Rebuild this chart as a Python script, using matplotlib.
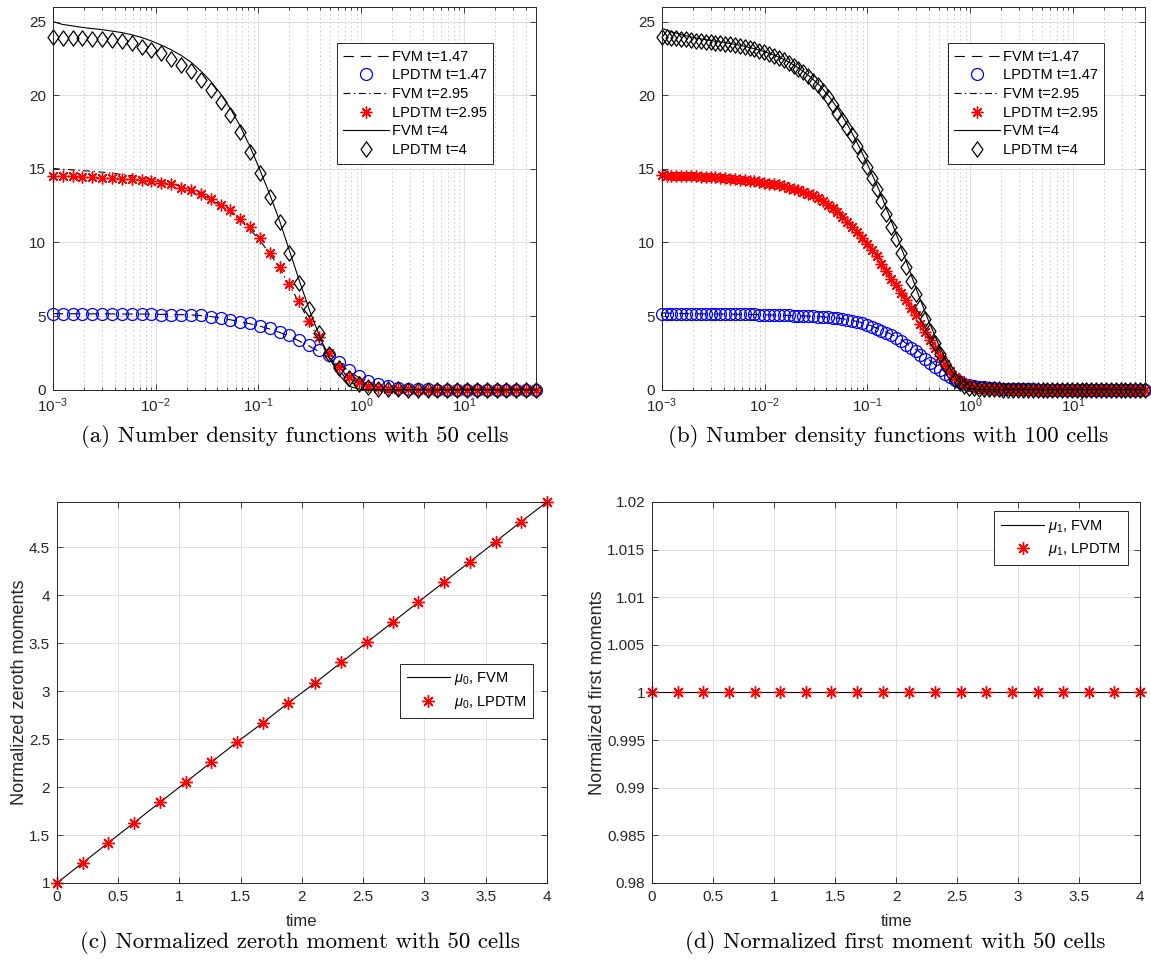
import matplotlib
matplotlib.use('Agg')
import matplotlib.pyplot as plt
from matplotlib.path import Path
from matplotlib.ticker import LogLocator, FormatStrFormatter, MultipleLocator, NullFormatter

plt.rcParams['font.family'] = ['Liberation Sans', 'DejaVu Sans']
plt.rcParams['mathtext.fontset'] = 'custom'
plt.rcParams['mathtext.rm'] = 'Liberation Sans'
plt.rcParams['mathtext.it'] = 'Liberation Sans:italic'
plt.rcParams['mathtext.bf'] = 'Liberation Sans:bold'
plt.rcParams['axes.unicode_minus'] = False
plt.rcParams['lines.scale_dashes'] = False

# ---------------- data: 50 cells (panel a) ----------------
x50 = [0.001, 0.00125, 0.00156, 0.00194, 0.00242, 0.00302, 0.00376, 0.00469, 0.00585, 0.0073,
       0.0091, 0.01135, 0.0142, 0.0177, 0.022, 0.0275, 0.0343, 0.0428, 0.0533, 0.0665,
       0.0829, 0.103, 0.129, 0.161, 0.2, 0.25, 0.312, 0.389, 0.485, 0.604,
       0.754, 0.94, 1.17, 1.46, 1.82, 2.28, 2.84, 3.54, 4.41, 5.5,
       6.87, 8.56, 10.7, 13.3, 16.6, 20.7, 25.8, 32.2, 40.2, 50.0]

a_fvm_147 = [5.16, 5.16, 5.16, 5.15, 5.15, 5.15, 5.15, 5.14, 5.14, 5.14,
             5.13, 5.12, 5.11, 5.10, 5.08, 5.04, 4.97, 4.87, 4.75, 4.62,
             4.48, 4.32, 4.12, 3.89, 3.63, 3.31, 2.96, 2.59, 2.20, 1.76,
             1.28, 0.84, 0.52, 0.30, 0.16, 0.08, 0.04, 0.02, 0.01, 0.0,
             0.0, 0.0, 0.0, 0.0, 0.0, 0.0, 0.0, 0.0, 0.0, 0.0]
a_lp_147 = [5.12, 5.12, 5.12, 5.12, 5.12, 5.12, 5.12, 5.11, 5.11, 5.11,
            5.11, 5.10, 5.10, 5.09, 5.08, 5.05, 4.97, 4.86, 4.74, 4.62,
            4.50, 4.36, 4.16, 3.94, 3.70, 3.38, 3.04, 2.69, 2.33, 1.88,
            1.36, 0.90, 0.60, 0.38, 0.22, 0.12, 0.07, 0.04, 0.02, 0.01,
            0.0, 0.0, 0.0, 0.0, 0.0, 0.0, 0.0, 0.0, 0.0, 0.0]
a_fvm_295 = [15.02, 14.97, 14.93, 14.88, 14.83, 14.77, 14.70, 14.62, 14.53, 14.43,
             14.31, 14.17, 14.00, 13.80, 13.56, 13.28, 12.94, 12.52, 12.05, 11.50,
             10.88, 10.15, 9.25, 8.25, 7.10, 5.90, 4.60, 3.40, 2.25, 1.30,
             0.60, 0.20, 0.05, 0.0, 0.0, 0.0, 0.0, 0.0, 0.0, 0.0,
             0.0, 0.0, 0.0, 0.0, 0.0, 0.0, 0.0, 0.0, 0.0, 0.0]
a_lp_295 = [14.51, 14.51, 14.51, 14.46, 14.42, 14.39, 14.35, 14.33, 14.28, 14.24,
            14.17, 14.06, 13.94, 13.71, 13.56, 13.30, 12.97, 12.56, 12.20, 11.61,
            11.03, 10.28, 9.31, 8.35, 7.18, 6.04, 4.68, 3.60, 2.47, 1.56,
            0.88, 0.50, 0.28, 0.14, 0.07, 0.03, 0.02, 0.01, 0.0, 0.0,
            0.0, 0.0, 0.0, 0.0, 0.0, 0.0, 0.0, 0.0, 0.0, 0.0]
a_fvm_4 = [25.00, 24.80, 24.70, 24.60, 24.52, 24.45, 24.35, 24.25, 24.10, 23.92,
           23.68, 23.40, 23.08, 22.70, 22.25, 21.65, 20.95, 20.10, 19.10, 17.90,
           16.50, 14.95, 13.25, 11.45, 9.45, 7.40, 5.45, 3.70, 2.20, 1.05,
           0.25, 0.05, 0.0, 0.0, 0.0, 0.0, 0.0, 0.0, 0.0, 0.0,
           0.0, 0.0, 0.0, 0.0, 0.0, 0.0, 0.0, 0.0, 0.0, 0.0]
a_lp_4 = [23.92, 23.90, 23.90, 23.88, 23.83, 23.79, 23.72, 23.65, 23.51, 23.28,
          23.06, 22.83, 22.43, 22.05, 21.64, 21.03, 20.35, 19.56, 18.65, 17.52,
          16.16, 14.69, 13.10, 11.36, 9.26, 7.22, 5.50, 3.83, 2.40, 1.50,
          0.82, 0.38, 0.17, 0.08, 0.04, 0.02, 0.01, 0.01, 0.0, 0.0,
          0.0, 0.0, 0.0, 0.0, 0.0, 0.0, 0.0, 0.0, 0.0, 0.0]

# ---------------- data: 100 cells (panel b) ----------------
x100 = [0.001, 0.001116, 0.001244, 0.001388, 0.001549, 0.001727, 0.001927, 0.002149, 0.002397, 0.002674,
        0.002983, 0.003327, 0.003712, 0.004141, 0.004619, 0.005152, 0.005748, 0.006411, 0.007152, 0.007978,
        0.008899, 0.009926, 0.01107, 0.01235, 0.01378, 0.01537, 0.01715, 0.01913, 0.02133, 0.0238,
        0.02655, 0.02961, 0.03303, 0.03685, 0.0411, 0.04585, 0.05115, 0.05705, 0.06365, 0.071,
        0.0792, 0.08834, 0.09852, 0.1099, 0.1226, 0.1368, 0.1526, 0.1702, 0.1898, 0.2118,
        0.2362, 0.2635, 0.2939, 0.3279, 0.3657, 0.408, 0.455, 0.5076, 0.5662, 0.6316,
        0.7046, 0.786, 0.8767, 0.9779, 1.091, 1.217, 1.357, 1.514, 1.689, 1.884,
        2.102, 2.344, 2.615, 2.917, 3.254, 3.63, 4.05, 4.517, 5.039, 5.621,
        6.27, 6.995, 7.802, 8.704, 9.707, 10.83, 12.08, 13.48, 15.03, 16.77,
        18.71, 20.86, 23.27, 25.96, 28.96, 32.3, 36.04, 40.19, 44.84, 50.0]

b_lp_147 = [5.17, 5.17, 5.17, 5.16, 5.16, 5.16, 5.16, 5.15, 5.15, 5.15,
            5.14, 5.14, 5.14, 5.13, 5.13, 5.13, 5.12, 5.12, 5.11, 5.11,
            5.10, 5.09, 5.08, 5.07, 5.06, 5.05, 5.04, 5.03, 5.02, 5.01,
            4.99, 4.98, 4.96, 4.94, 4.92, 4.89, 4.85, 4.80, 4.75, 4.70,
            4.61, 4.52, 4.41, 4.29, 4.14, 3.99, 3.85, 3.69, 3.52, 3.29,
            3.05, 2.85, 2.63, 2.35, 2.09, 1.81, 1.54, 1.31, 1.08, 0.87,
            0.67, 0.55, 0.42, 0.34, 0.26, 0.21, 0.16, 0.12, 0.10, 0.08,
            0.06, 0.05, 0.04, 0.03, 0.03, 0.02, 0.02, 0.01, 0.01, 0.01,
            0.01, 0.01, 0.01, 0.01, 0.01, 0.0, 0.0, 0.0, 0.0, 0.0,
            0.0, 0.0, 0.0, 0.0, 0.0, 0.0, 0.0, 0.0, 0.0, 0.0]
b_lp_295 = [14.55, 14.54, 14.53, 14.52, 14.51, 14.50, 14.49, 14.48, 14.47, 14.45,
            14.43, 14.41, 14.39, 14.36, 14.33, 14.30, 14.27, 14.24, 14.20, 14.16,
            14.11, 14.06, 14.00, 13.94, 13.87, 13.80, 13.72, 13.63, 13.54, 13.44,
            13.32, 13.19, 13.00, 12.79, 12.56, 12.31, 12.04, 11.75, 11.41, 11.07,
            10.68, 10.30, 9.92, 9.51, 9.05, 8.56, 8.04, 7.54, 7.08, 6.59,
            6.10, 5.57, 5.04, 4.47, 3.93, 3.37, 2.83, 2.28, 1.74, 1.30,
            0.87, 0.65, 0.43, 0.31, 0.18, 0.13, 0.08, 0.06, 0.04, 0.03,
            0.02, 0.02, 0.01, 0.01, 0.01, 0.01, 0.01, 0.01, 0.01, 0.0,
            0.0, 0.0, 0.0, 0.0, 0.0, 0.0, 0.0, 0.0, 0.0, 0.0,
            0.0, 0.0, 0.0, 0.0, 0.0, 0.0, 0.0, 0.0, 0.0, 0.0]
b_lp_4 = [23.97, 23.93, 23.89, 23.86, 23.82, 23.78, 23.74, 23.71, 23.67, 23.63,
          23.60, 23.57, 23.54, 23.50, 23.45, 23.40, 23.35, 23.29, 23.21, 23.12,
          23.03, 22.94, 22.82, 22.69, 22.55, 22.39, 22.20, 22.00, 21.79, 21.55,
          21.27, 20.98, 20.67, 20.30, 19.85, 19.35, 18.80, 18.28, 17.80, 17.28,
          16.57, 15.87, 15.15, 14.40, 13.62, 12.80, 11.92, 11.05, 10.20, 9.27,
          8.32, 7.38, 6.48, 5.62, 4.81, 3.98, 3.18, 2.44, 1.73, 1.19,
          0.69, 0.45, 0.22, 0.14, 0.09, 0.06, 0.04, 0.03, 0.02, 0.02,
          0.01, 0.01, 0.01, 0.01, 0.01, 0.01, 0.0, 0.0, 0.0, 0.0,
          0.0, 0.0, 0.0, 0.0, 0.0, 0.0, 0.0, 0.0, 0.0, 0.0,
          0.0, 0.0, 0.0, 0.0, 0.0, 0.0, 0.0, 0.0, 0.0, 0.0]
# FVM curves of panel b, read on the coarser x50 positions
b_fvm_147 = [5.22, 5.19, 5.17, 5.16, 5.15, 5.14, 5.14, 5.13, 5.12, 5.11,
             5.10, 5.08, 5.06, 5.04, 5.02, 4.99, 4.96, 4.92, 4.85, 4.75,
             4.61, 4.41, 4.14, 3.85, 3.52, 3.05, 2.63, 2.09, 1.54, 1.08,
             0.67, 0.42, 0.26, 0.16, 0.10, 0.06, 0.04, 0.02, 0.01, 0.0,
             0.0, 0.0, 0.0, 0.0, 0.0, 0.0, 0.0, 0.0, 0.0, 0.0]
b_fvm_295 = [14.92, 14.75, 14.62, 14.55, 14.50, 14.45, 14.40, 14.34, 14.27, 14.20,
             14.11, 14.00, 13.87, 13.72, 13.54, 13.32, 13.00, 12.56, 12.04, 11.41,
             10.68, 9.92, 9.05, 8.04, 7.08, 6.10, 5.04, 3.93, 2.83, 1.74,
             0.80, 0.25, 0.05, 0.0, 0.0, 0.0, 0.0, 0.0, 0.0, 0.0,
             0.0, 0.0, 0.0, 0.0, 0.0, 0.0, 0.0, 0.0, 0.0, 0.0]
b_fvm_4 = [24.55, 24.30, 24.10, 23.95, 23.82, 23.70, 23.60, 23.50, 23.38, 23.22,
           23.04, 22.82, 22.55, 22.20, 21.79, 21.27, 20.67, 19.88, 18.92, 17.80,
           16.52, 15.12, 13.60, 11.92, 10.18, 8.33, 6.47, 4.76, 3.18, 1.73,
           0.60, 0.10, 0.02, 0.0, 0.0, 0.0, 0.0, 0.0, 0.0, 0.0,
           0.0, 0.0, 0.0, 0.0, 0.0, 0.0, 0.0, 0.0, 0.0, 0.0]

# ---------------- data: moments (panels c, d) ----------------
t_mom = [0, 0.21, 0.42, 0.63, 0.84, 1.05, 1.26, 1.47, 1.68, 1.89,
         2.11, 2.32, 2.53, 2.74, 2.95, 3.16, 3.37, 3.58, 3.79, 4.0]
mu0_fvm = [1.0, 1.21, 1.42, 1.63, 1.84, 2.05, 2.26, 2.47, 2.67, 2.88,
           3.09, 3.30, 3.51, 3.72, 3.93, 4.14, 4.35, 4.56, 4.77, 4.975]
mu0_lpdtm = [1.0, 1.21, 1.42, 1.63, 1.84, 2.05, 2.26, 2.47, 2.67, 2.88,
             3.09, 3.30, 3.51, 3.72, 3.93, 4.14, 4.35, 4.56, 4.77, 4.975]
mu1_fvm = [1.0, 1.0, 1.0, 1.0, 1.0, 1.0, 1.0, 1.0, 1.0, 1.0,
           1.0, 1.0, 1.0, 1.0, 1.0, 1.0, 1.0, 1.0, 1.0, 1.0]
mu1_lpdtm = [1.0, 1.0, 1.0, 1.0, 1.0, 1.0, 1.0, 1.0, 1.0, 1.0,
             1.0, 1.0, 1.0, 1.0, 1.0, 1.0, 1.0, 1.0, 1.0, 1.0]

captions = ['(a) Number density functions with 50 cells',
            '(b) Number density functions with 100 cells',
            '(c) Normalized zeroth moment with 50 cells',
            '(d) Normalized first moment with 50 cells']

# ---------------- styles ----------------
tick_col = '#262626'
dash = (0, (7.5, 5))
dashdot = (0, (5, 2.5, 1, 2.5))
star = (8, 2, 0)
diamond = Path([(0, 1), (0.72, 0), (0, -1), (-0.72, 0), (0, 1)],
               [Path.MOVETO, Path.LINETO, Path.LINETO, Path.LINETO, Path.CLOSEPOLY])
lw = 0.8


def style_axes(ax):
    ax.set_axisbelow(True)
    ax.tick_params(which='both', direction='in', top=True, right=True,
                   labelsize=11, colors=tick_col, width=0.6, pad=5)
    ax.tick_params(which='major', length=4)
    ax.tick_params(which='minor', length=2.2)
    for s in ax.spines.values():
        s.set_color(tick_col)
        s.set_linewidth(0.7)


def density_panel(ax, xl, xm, f147, l147, f295, l295, f4, l4, leg_x):
    ax.plot(xl, f147, color='k', lw=lw, linestyle=dash, label='FVM t=1.47')
    ax.plot(xm, l147, linestyle='none', marker='o', ms=8.6, mfc='none', mec='b',
            mew=0.9, clip_on=False, label='LPDTM t=1.47')
    ax.plot(xl, f295, color='k', lw=lw, linestyle=dashdot, label='FVM t=2.95')
    ax.plot(xm, l295, linestyle='none', marker=star, ms=8.5, mec='r', mfc='r',
            mew=1.0, clip_on=False, label='LPDTM t=2.95')
    ax.plot(xl, f4, color='k', lw=lw, linestyle='-', label='FVM t=4')
    ax.plot(xm, l4, linestyle='none', marker=diamond, ms=11, mfc='none', mec='k',
            mew=0.9, clip_on=False, label='LPDTM t=4')
    ax.set_xscale('log')
    ax.set_xlim(0.001, 50)
    ax.set_ylim(0, 26)
    ax.set_yticks([0, 5, 10, 15, 20, 25])
    ax.xaxis.set_major_locator(LogLocator(base=10, numticks=10))
    ax.xaxis.set_minor_locator(LogLocator(base=10, subs=range(2, 10), numticks=20))
    ax.xaxis.set_minor_formatter(NullFormatter())
    ax.grid(True, which='major', color='#dedede', lw=0.7)
    ax.xaxis.grid(True, which='minor', color='#bdbdbd', lw=0.6, linestyle=(0, (1, 2)))
    style_axes(ax)
    leg = ax.legend(loc='upper left', bbox_to_anchor=(leg_x, 0.905), fontsize=10.5,
                    handlelength=3.1, handletextpad=0.2, borderpad=0.45,
                    labelspacing=0.32, borderaxespad=0, fancybox=False,
                    framealpha=1, edgecolor='#262626')
    leg.get_frame().set_linewidth(0.7)


fig = plt.figure(figsize=(11.51, 9.69), dpi=100)

ax_a = fig.add_axes([0.0458, 0.5978, 0.4199, 0.3952])
density_panel(ax_a, x50, x50, a_fvm_147, a_lp_147, a_fvm_295, a_lp_295, a_fvm_4, a_lp_4, 0.588)

ax_b = fig.add_axes([0.5749, 0.5978, 0.4199, 0.3952])
density_panel(ax_b, x50, x100, b_fvm_147, b_lp_147, b_fvm_295, b_lp_295, b_fvm_4, b_lp_4, 0.592)

# ---------------- moments ----------------
ax_c = fig.add_axes([0.0495, 0.0888, 0.4257, 0.3932])
ax_c.plot(t_mom, mu0_fvm, color='k', lw=lw, label=r'$\mu_0$, FVM')
ax_c.plot(t_mom, mu0_lpdtm, linestyle='none', marker=star, ms=9, mec='r', mfc='r',
          mew=1.0, clip_on=False, label=r'$\mu_0$, LPDTM')
ax_c.set_xlim(0, 4)
ax_c.set_ylim(1, 4.975)
ax_c.xaxis.set_major_locator(MultipleLocator(0.5))
ax_c.set_yticks([1, 1.5, 2, 2.5, 3, 3.5, 4, 4.5])
ax_c.xaxis.set_major_formatter(FormatStrFormatter('%g'))
ax_c.yaxis.set_major_formatter(FormatStrFormatter('%g'))
ax_c.grid(True, color='#dedede', lw=0.7)
style_axes(ax_c)
ax_c.set_xlabel('time', fontsize=12, color=tick_col, labelpad=7)
ax_c.set_ylabel('Normalized zeroth moments', fontsize=13, color=tick_col, labelpad=1)
leg = ax_c.legend(loc='upper left', bbox_to_anchor=(0.70, 0.575), fontsize=10.5,
                  handlelength=3.0, handletextpad=0.25, borderpad=0.45,
                  labelspacing=0.45, borderaxespad=0, fancybox=False,
                  framealpha=1, edgecolor='#262626')
leg.get_frame().set_linewidth(0.7)

ax_d = fig.add_axes([0.5665, 0.0888, 0.4240, 0.3932])
ax_d.plot(t_mom, mu1_fvm, color='k', lw=lw, label=r'$\mu_1$, FVM')
ax_d.plot(t_mom, mu1_lpdtm, linestyle='none', marker=star, ms=9, mec='r', mfc='r',
          mew=1.0, clip_on=False, label=r'$\mu_1$, LPDTM')
ax_d.set_xlim(0, 4)
ax_d.set_ylim(0.98, 1.02)
ax_d.xaxis.set_major_locator(MultipleLocator(0.5))
ax_d.yaxis.set_major_locator(MultipleLocator(0.005))
ax_d.xaxis.set_major_formatter(FormatStrFormatter('%g'))
ax_d.yaxis.set_major_formatter(FormatStrFormatter('%g'))
ax_d.grid(True, color='#dedede', lw=0.7)
style_axes(ax_d)
ax_d.set_xlabel('time', fontsize=12, color=tick_col, labelpad=7)
ax_d.set_ylabel('Normalized first moments', fontsize=13, color=tick_col, labelpad=1)
leg = ax_d.legend(loc='upper left', bbox_to_anchor=(0.701, 0.976), fontsize=10.5,
                  handlelength=3.0, handletextpad=0.25, borderpad=0.45,
                  labelspacing=0.45, borderaxespad=0, fancybox=False,
                  framealpha=1, edgecolor='#262626')
leg.get_frame().set_linewidth(0.7)

# ---------------- captions ----------------
cap_pos = [(295, 437), (888, 437), (300, 943), (895, 943)]
for (px, py), txt in zip(cap_pos, captions):
    fig.text(px / 1151, 1 - py / 969, txt, ha='center', va='center',
             fontsize=16.5, family='cmr10', color='black')

fig.savefig('out.png', dpi=100)
